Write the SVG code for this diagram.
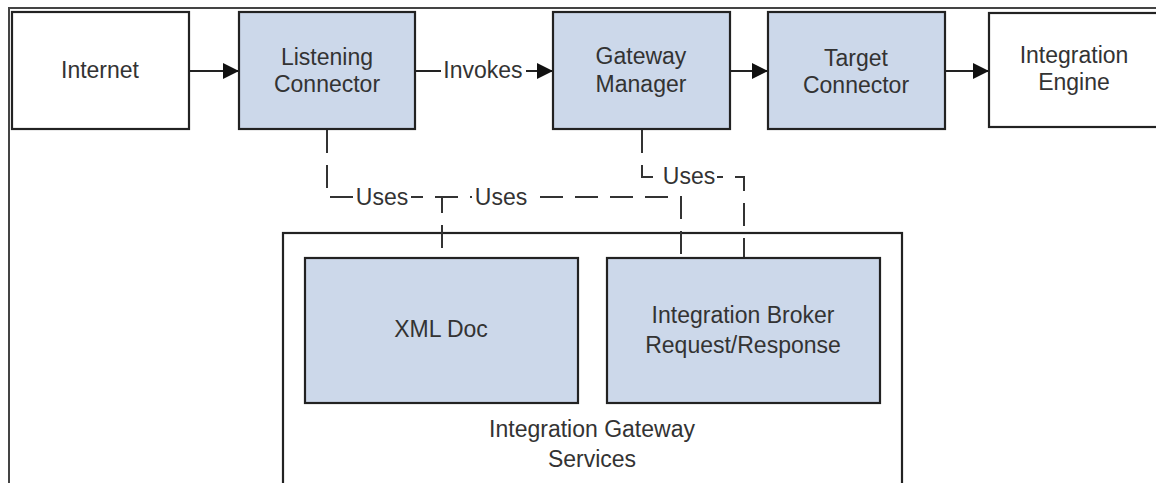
<svg xmlns="http://www.w3.org/2000/svg" width="1156" height="483" viewBox="0 0 1156 483">
<style>
.box{stroke:#222;stroke-width:2.2}
.blue{fill:#ccd8ea}
.white{fill:#fff}
text{font-family:"Liberation Sans",Arial,sans-serif;font-size:23px;fill:#333;text-anchor:middle}
.edge{fill:none;stroke:#222;stroke-width:2}
.dash{fill:none;stroke:#333;stroke-width:2;stroke-dasharray:23 12}
.lbg{fill:#fff}
</style>
<defs>
<marker id="arr" markerUnits="userSpaceOnUse" markerWidth="16" markerHeight="16" viewBox="0 0 16 16" refX="16" refY="8" orient="auto">
<path d="M0,0 L16,8 L0,16 z" fill="#111"/>
</marker>
</defs>
<rect width="1156" height="483" fill="#fff"/>
<path d="M9,483 V8 H1156" fill="none" stroke="#444" stroke-width="2"/>

<g id="container">
<rect class="box white" x="283" y="233" width="619" height="270"/>
<text x="592" y="437">Integration Gateway</text>
<text x="592" y="467">Services</text>
</g>

<g id="connectors">
<line class="edge" x1="189" y1="71" x2="239" y2="71" marker-end="url(#arr)"/>
<line class="edge" x1="415" y1="71" x2="553" y2="71" marker-end="url(#arr)"/>
<rect class="lbg" x="441" y="56" width="85" height="28"/>
<text x="483" y="78">Invokes</text>
<line class="edge" x1="730" y1="71" x2="768" y2="71" marker-end="url(#arr)"/>
<line class="edge" x1="945" y1="71" x2="989" y2="71" marker-end="url(#arr)"/>
<path class="dash" d="M327,130 V197 H442 V258"/>
<path class="dash" d="M327,130 V197 H681 V258"/>
<path class="dash" d="M642,130 V177 H744 V258"/>
<rect class="lbg" x="354" y="186" width="57" height="24"/>
<text x="382" y="205">Uses</text>
<rect class="lbg" x="472" y="186" width="58" height="24"/>
<text x="501" y="205">Uses</text>
<rect class="lbg" x="661" y="166" width="56" height="24"/>
<text x="689" y="184">Uses</text>
</g>

<g id="internet">
<rect class="box white" x="12" y="12" width="177" height="117"/>
<text x="100" y="78">Internet</text>
</g>
<g id="listening">
<rect class="box blue" x="239" y="12" width="176" height="117"/>
<text x="327" y="65">Listening</text>
<text x="327" y="92">Connector</text>
</g>
<g id="gateway">
<rect class="box blue" x="553" y="12" width="177" height="117"/>
<text x="641" y="64">Gateway</text>
<text x="641" y="92">Manager</text>
</g>
<g id="target">
<rect class="box blue" x="768" y="12" width="177" height="117"/>
<text x="856" y="66">Target</text>
<text x="856" y="93">Connector</text>
</g>
<g id="engine">
<rect class="box white" x="989" y="13" width="180" height="114"/>
<text x="1074" y="63">Integration</text>
<text x="1074" y="90">Engine</text>
</g>
<g id="xmldoc">
<rect class="box blue" x="305" y="258" width="273" height="145"/>
<text x="441" y="337">XML Doc</text>
</g>
<g id="broker">
<rect class="box blue" x="607" y="258" width="273" height="145"/>
<text x="743" y="323">Integration Broker</text>
<text x="743" y="353">Request/Response</text>
</g>
</svg>
